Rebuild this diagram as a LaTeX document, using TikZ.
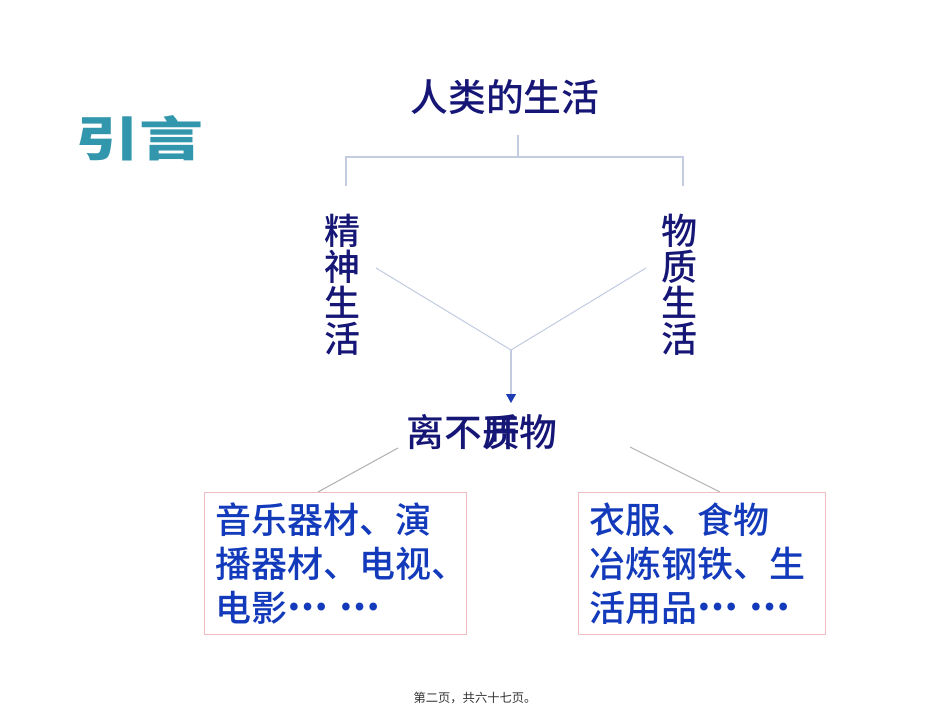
\documentclass[tikz,border=0pt]{standalone}
\usepackage{fontspec}
\usepackage{graphicx}
\setmainfont{Liberation Sans}
\newfontfamily\cjk{Noto Sans CJK SC}
\newfontfamily\cjkmid{Noto Sans CJK SC}[UprightFont={* Medium}]
\usetikzlibrary{arrows.meta,positioning}
\definecolor{TitleNavy}{RGB}{22,22,118}
\definecolor{ItemBlue}{RGB}{18,58,186}
\definecolor{TealHead}{RGB}{50,150,172}
\definecolor{LinkGray}{RGB}{196,204,226}
\definecolor{BoxPink}{RGB}{240,188,194}
\definecolor{TipBlue}{RGB}{30,60,180}
\newcommand{\midots}{\smash{\raisebox{0.3em}{\bfseries…}}}
\tikzset{
  heading/.style={text=TealHead,font=\cjk\bfseries\fontsize{27}{27}\selectfont,inner sep=0pt},
  title/.style={text=TitleNavy,font=\cjkmid\fontsize{21.5}{21.5}\selectfont,inner sep=0pt},
  vtext/.style={text=TitleNavy,font=\cjkmid\fontsize{20.5}{20.5}\selectfont,
    align=center,inner sep=0pt},
  listbox/.style={draw=BoxPink,line width=0.6pt,anchor=north west,align=left,
    text=ItemBlue,font=\cjkmid\fontsize{20.5}{25}\selectfont,
    inner xsep=0.21cm,minimum height=2.84cm},
  link/.style={draw=LinkGray,line width=0.6pt},
  arrow/.style={link,-{Triangle[length=5pt,width=5.5pt,color=TipBlue]}},
  footer/.style={text=black!80,font=\cjk\fontsize{7}{7}\selectfont,inner sep=0pt}
}
\begin{document}
\begin{tikzpicture}[x=0.02cm,y=-0.02cm]
\useasboundingbox (0,0) rectangle (950,713);
\node[heading] (intro) at (140,138) {\scalebox{1.35}[1]{引言}};
\node[title] (life) at (505,97) {人类的生活};
\node[vtext] (spirit) at (343,285) {精\\神\\生\\活};
\node[vtext] (matter) at (680,285) {物\\质\\生\\活};
% bracket under the title
\coordinate (stem) at (518,135);
\coordinate (fork) at (518,157);
\coordinate (lfoot) at (346,186);
\coordinate (rfoot) at (683,186);
\draw[link] (stem) -- (fork);
\draw[link] (lfoot) |- (fork);
\draw[link] (rfoot) |- (fork);
% the two lives meet
\coordinate (ls) at (376,268);
\coordinate (rs) at (646,268);
\coordinate (meet) at (511,350);
\coordinate (tip) at (511,403);
\draw[link] (ls) -- (meet);
\draw[link] (rs) -- (meet);
\draw[arrow] (meet) -- (tip);
\node[title] (need) at (482,432) {离不\makebox[1em]{\rlap{开}质}物};
\node[listbox,minimum width=5.24cm,text width=4.82cm] (music) at (204,492)
  {音乐器材、演\\播器材、电视、\\电影\midots\ \midots};
\node[listbox,minimum width=4.94cm,text width=4.52cm] (goods) at (578,492)
  {衣服、食物\\冶炼钢铁、生\\活用品\midots\ \midots};
\coordinate (ln) at (398,448);
\coordinate (rn) at (630,447);
\draw[link,draw=black!30] (ln) -- (music.north -| 318,0);
\draw[link,draw=black!30] (rn) -- (goods.north -| 720,0);
\node[footer] (page) at (475,698) {第二页，共六十七页。};
\end{tikzpicture}
\end{document}
